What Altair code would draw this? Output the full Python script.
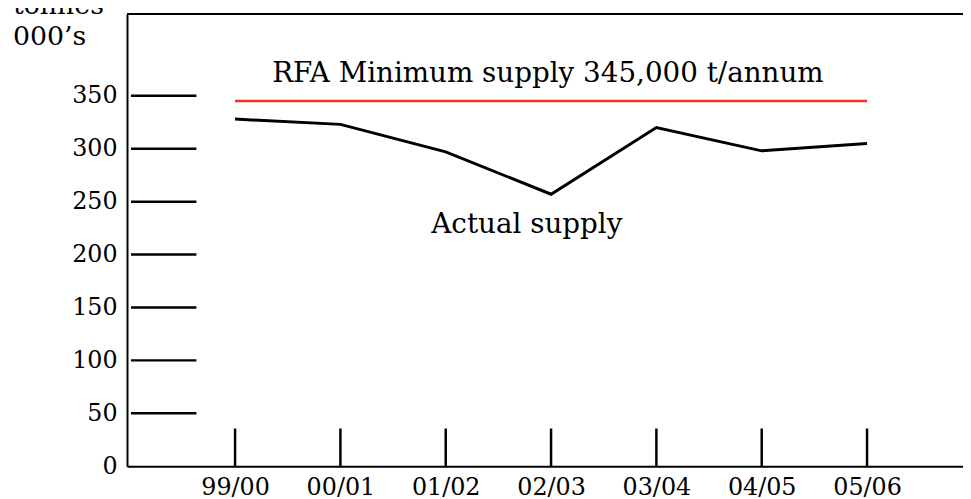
import json
import altair as alt
import pandas as pd

# ---- data ----
periods = ["99/00", "00/01", "01/02", "02/03", "03/04", "04/05", "05/06"]
actual_supply = [328, 323, 297, 257, 320, 298, 305]   # tonnes 000's
rfa_minimum = 345                                     # tonnes 000's
y_ticks = [0, 50, 100, 150, 200, 250, 300, 350]

FONT = "DejaVu Serif"
W, H = 843, 456

idx = list(range(len(periods)))
df_actual = pd.DataFrame({"i": idx, "period": periods, "supply": actual_supply})
df_rfa = pd.DataFrame({"i": [idx[0]], "i1": [idx[-1]], "v": [rfa_minimum]})
df_yt = pd.DataFrame({"v": y_ticks[1:]})
df_xt = pd.DataFrame({"i": idx})
df_notes = pd.DataFrame({
    "i": [2.97, 2.77],
    "v": [363.5, 220.5],
    "txt": ["RFA Minimum supply 345,000 t/annum", "Actual supply"],
})

xscale = alt.Scale(domain=[-1.026, 6.911], nice=False, zero=False)
yscale = alt.Scale(domain=[0, 427.3], nice=False, zero=True)

xaxis = alt.Axis(
    values=idx, labelExpr=f"{json.dumps(periods)}[datum.value]",
    grid=False, ticks=False, title=None,
    domainColor="black", domainWidth=2,
    labelFont=FONT, labelFontSize=24, labelColor="black", labelPadding=10,
)
yaxis = alt.Axis(
    values=y_ticks, grid=False, ticks=False, title=None,
    domainColor="black", domainWidth=2,
    labelFont=FONT, labelFontSize=24, labelColor="black", labelPadding=10,
)

def X(field):
    return alt.X(field, scale=xscale, axis=xaxis, title=None)

def Y(field):
    return alt.Y(field, scale=yscale, axis=yaxis, title=None)

line = alt.Chart(df_actual).mark_line(color="black", strokeWidth=3).encode(
    x=X("i:Q"), y=Y("supply:Q"),
)

rfa = alt.Chart(df_rfa).mark_rule(color="#EE3322", strokeWidth=2.5).encode(
    x=X("i:Q"), x2="i1:Q", y=Y("v:Q"),
)

ytick_rules = alt.Chart(df_yt).mark_rule(color="black", strokeWidth=2.5).encode(
    y=Y("v:Q"), x=alt.value(4), x2=alt.value(70),
)

xtick_rules = alt.Chart(df_xt).mark_rule(color="black", strokeWidth=2.5).encode(
    x=X("i:Q"), y=alt.value(H), y2=alt.value(H - 38),
)

top_border = alt.Chart(df_xt).mark_rule(color="black", strokeWidth=2).encode(
    x=alt.value(0), x2=alt.value(W), y=alt.value(0),
)

notes = alt.Chart(df_notes).mark_text(
    font=FONT, fontSize=28, color="black", align="center", baseline="alphabetic"
).encode(
    x=X("i:Q"), y=Y("v:Q"), text="txt:N",
)

unit_top = alt.Chart(pd.DataFrame({"t": ["tonnes"]})).mark_text(
    font=FONT, fontSize=27, color="black", align="left", baseline="alphabetic"
).encode(x=alt.value(-115), y=alt.value(0), text="t:N")

unit_bottom = alt.Chart(pd.DataFrame({"t": ["000\u2019s"]})).mark_text(
    font=FONT, fontSize=27, color="black", align="left", baseline="alphabetic"
).encode(x=alt.value(-115), y=alt.value(31), text="t:N")

chart = alt.layer(
    top_border, ytick_rules, xtick_rules, rfa, line, notes, unit_top, unit_bottom
).properties(
    width=W, height=H,
    autosize=alt.AutoSizeParams(type="none"),
    padding={"left": 120, "top": 4, "right": 0, "bottom": 30},
).configure_view(stroke=None).configure_axis(grid=False).configure(background="white")

chart.save("out.html", embed_options={"renderer": "svg", "actions": False})
